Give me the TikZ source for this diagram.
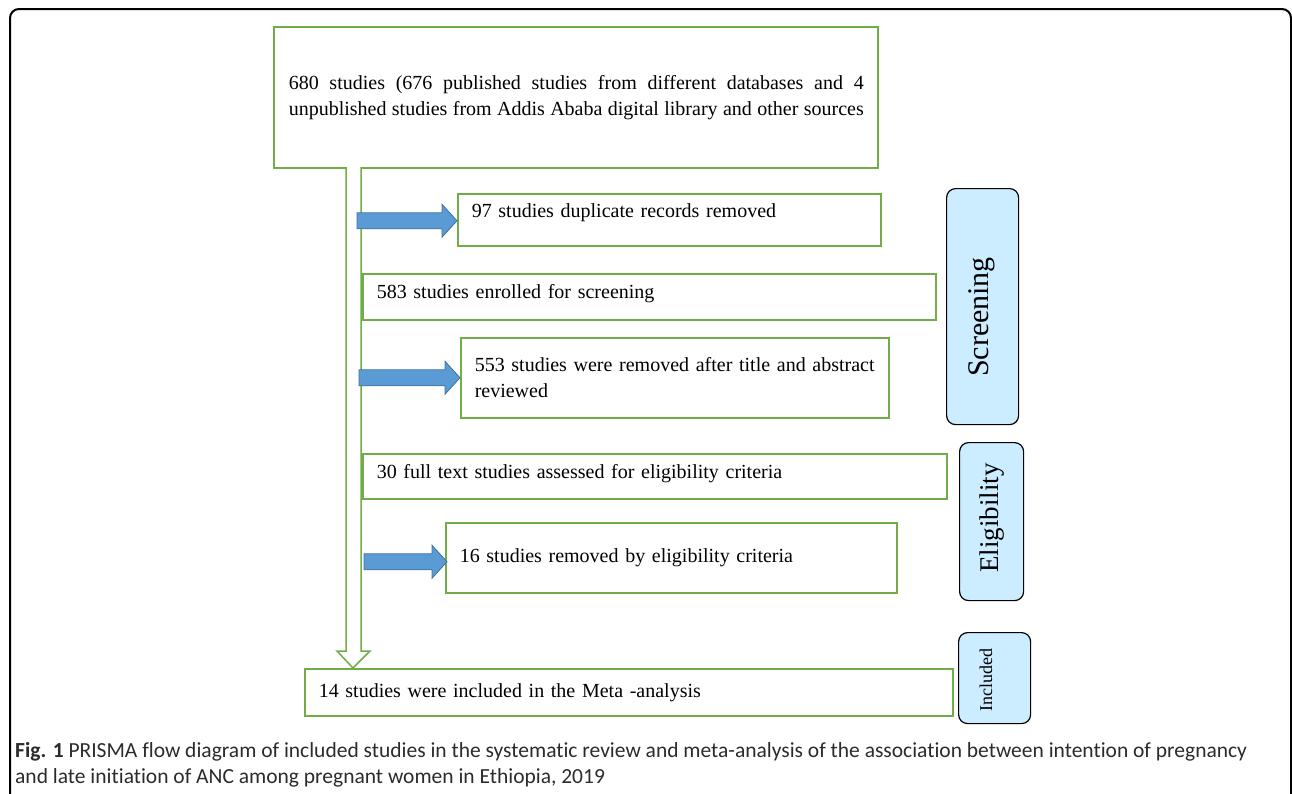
\documentclass[tikz,border=0pt]{standalone}
\usepackage{fontspec}
\setmainfont{Liberation Serif}
\newfontfamily\capfont[Ligatures=NoCommon]{Carlito}
\usetikzlibrary{calc}
\definecolor{boxgreen}{HTML}{70AD47}
\definecolor{stageblue}{HTML}{CCECFF}
\definecolor{arrowblue}{HTML}{5B9BD5}
\definecolor{arrowedge}{HTML}{41719C}
\definecolor{capgray}{HTML}{2B2B2B}
\newcommand\blockarrow[2]{%
  \draw[blockarrow] ($(#1)+(-#2,-8)$) -- ($(#1)+(-15,-8)$) -- ($(#1)+(-15,-16.5)$) -- (#1)
    -- ($(#1)+(-15,16.5)$) -- ($(#1)+(-15,8)$) -- ($(#1)+(-#2,8)$) -- cycle;}
\newcommand\fullline[1]{{\spaceskip=5pt plus 40pt minus 2.5pt\relax\hbox to 575pt{#1}}}
\begin{document}
\begin{tikzpicture}[x=1pt,y=-1pt,
  box/.style={draw=boxgreen, line width=1.5pt, fill=white, anchor=north west,
    inner xsep=14pt, inner ysep=0pt, align=left, font=\fontsize{20}{26}\selectfont},
  stage/.style={draw=black, line width=1.2pt, fill=stageblue, rounded corners=9pt,
    anchor=north west, inner sep=0pt},
  stagetext/.style={rotate=90, inner sep=0pt},
  blockarrow/.style={fill=arrowblue, draw=arrowedge, line width=0.8pt},
  hollow/.style={draw=boxgreen, line width=1.5pt, fill=white, line join=miter}]
\useasboundingbox (0,0) rectangle (1292,793);
\clip (0,0) rectangle (1292,793);
% outer frame
\draw[line width=2pt, rounded corners=9pt] (10,820) -- (10,9) -- (1291,9) -- (1291,820);
% source box
\node[box, minimum width=604, minimum height=141, text width=576, inner xsep=14pt] (src) at (273,26)
  {\hspace*{1pt}\fullline{680 studies (676 published studies from different databases and 4}
   \hspace*{1pt}\fullline{unpublished studies from Addis Ababa digital library and other sources}};
% final box
\node[box, minimum width=648, minimum height=47, text width=620] (b14) at (304,668)
  {14 studies were included in the Meta -analysis};
% hollow down arrow
\coordinate (tip) at ($(b14.north west)+(49,0)$);
\draw[hollow] (346,167) -- (346,651) -- (337,651) -- (tip) -- (370,651) -- (361,651) -- (361,167);
% other boxes
\node[box, minimum width=423, minimum height=52, text width=395, text depth=18pt] (b97) at (457,193)
  {97 studies duplicate records removed};
\node[box, minimum width=573, minimum height=46, text width=545, text depth=10pt] (b583) at (362,273)
  {583 studies enrolled for screening};
\node[box, minimum width=428, minimum height=80, text width=400] (b553) at (460,337)
  {553 studies were removed after title and abstract\\reviewed};
\node[box, minimum width=584, minimum height=45, text width=556, text depth=10pt] (b30) at (362,453)
  {30 full text studies assessed for eligibility criteria};
\node[box, minimum width=451, minimum height=70, text width=423] (b16) at (445,522)
  {16 studies removed by eligibility criteria};
% blue block arrows
\blockarrow{$(b97.west)+(0,1)$}{100}
\blockarrow{b553.west}{101}
\blockarrow{$(b16.west)+(2,4)$}{83}
% stage labels
\node[stage, minimum width=72, minimum height=236] (screen) at (946,188) {};
\node[stagetext, font=\fontsize{30}{30}\selectfont] (screent) at (982,317) {Screening};
\node[stage, minimum width=64, minimum height=158] (elig) at (959,442) {};
\node[stagetext, font=\fontsize{27}{27}\selectfont] (eligt) at (992,518) {Eligibility};
\node[stage, minimum width=72, minimum height=91] (incl) at (958,632) {};
\node[stagetext, font=\fontsize{18}{18}\selectfont] (inclt) at (986,680) {Included};
% caption
\node[anchor=north west, align=left, inner sep=0pt, text=capgray,
  font=\capfont\fontsize{21.5}{26}\selectfont] (cap) at (15,742)
  {\textbf{Fig. 1} PRISMA flow diagram of included studies in the systematic review and meta-analysis of the association between intention of pregnancy\\
   and late initiation of ANC among pregnant women in Ethiopia, 2019};
\end{tikzpicture}
\end{document}
